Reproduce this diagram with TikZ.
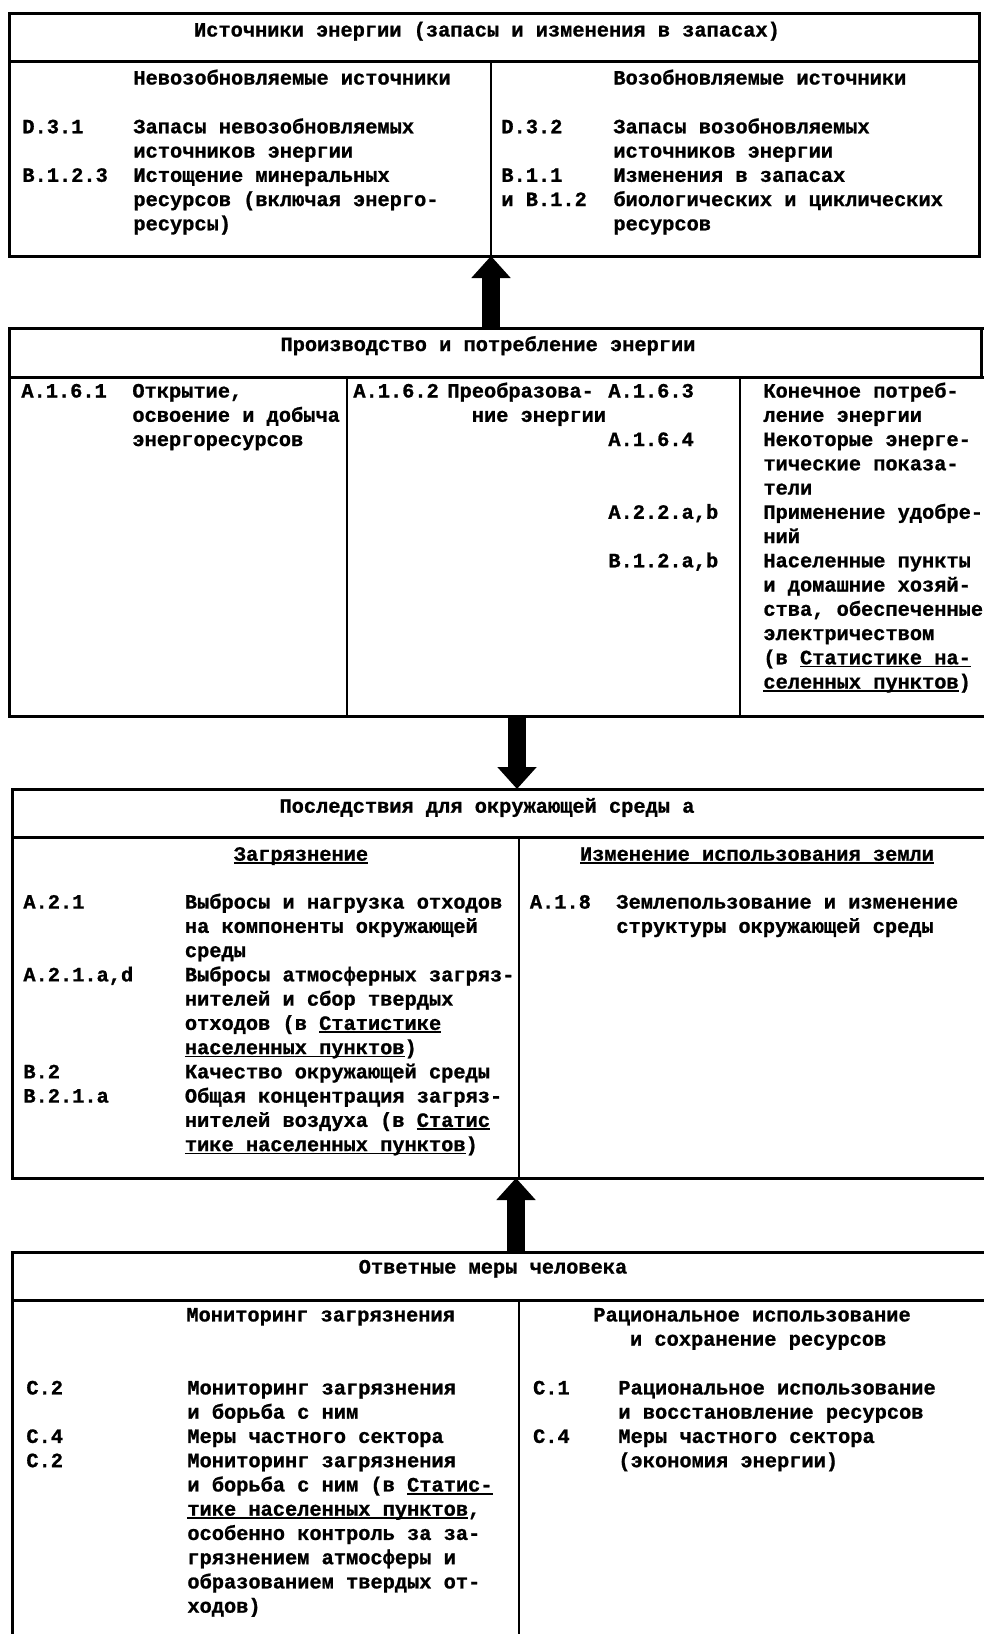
\documentclass[tikz,border=0pt]{standalone}
\usepackage{fontspec}
\setmainfont{Liberation Mono}[BoldFeatures={FakeBold=1}]
\usetikzlibrary{arrows.meta}
\newcommand{\undl}[1]{\setbox0=\hbox{#1}\rlap{\rule[-1.6pt]{\wd0}{0.8pt}}\box0}

\begin{document}
\begin{tikzpicture}[x=0.5pt,y=-0.5pt,
  frame/.style={line width=1.5pt},
  rule/.style={line width=1pt},
  txt/.style={anchor=base west,inner sep=0pt,align=left,
    font=\bfseries\fontsize{10.17pt}{12.125pt}\selectfont},
  heading/.style={txt,anchor=base},
  bigarrow/.style={line width=8.75pt,-{Triangle[width=19pt,length=11pt]}}]
\useasboundingbox (0,0) rectangle (984,1634);
\fill[white] (0,0) rectangle (984,1634);
% (multi-line texts sit on the baseline of their last line)

% sources of energy
\draw[frame] (9,13) rectangle (979,256);
\draw[frame] (9,61) -- (979,61);
\draw[rule] (491,61) -- (491,256);
\node[heading] (src head) at (487,36.5) {Источники энергии (запасы и изменения в запасах)};
\node[txt] (nonren head) at (133,84.5) {Невозобновляемые источники};
\node[txt] (ren head) at (613,84.5) {Возобновляемые источники};
\node[txt] (d31) at (22,133.3) {D.3.1};
\node[txt] (b123) at (22,181.8) {B.1.2.3};
\node[txt] (nonren) at (133,230.3) {Запасы невозобновляемых\\источников энергии\\Истощение минеральных\\ресурсов (включая энерго-\\ресурсы)};
\node[txt] (d32) at (501,133.3) {D.3.2};
\node[txt] (b11) at (501,206.05) {B.1.1\\и B.1.2};
\node[txt] (ren) at (613,230.3) {Запасы возобновляемых\\источников энергии\\Изменения в запасах\\биологических и циклических\\ресурсов};

% production and consumption
\draw[frame] (984,328.5) -- (9,328.5) -- (9,716.5) -- (984,716.5);
\draw[frame] (981,328.5) -- (981,377);
\draw[frame] (9,377) -- (984,377);
\draw[rule] (347,377) -- (347,716.5);
\draw[rule] (740,377) -- (740,716.5);
\node[heading] (prod head) at (488,351) {Производство и потребление энергии};
\node[txt] (a161) at (21,397.5) {A.1.6.1};
\node[txt] (mining) at (132,446) {Открытие,\\освоение и добыча\\энергоресурсов};
\node[txt] (a162) at (353,397.5) {A.1.6.2};
\node[txt] (convert) at (447,421.75) {Преобразова-\\\hspace*{1.2em}ние энергии};
\node[txt] (a163) at (608,397.5) {A.1.6.3};
\node[txt] (a164) at (608,446) {A.1.6.4};
\node[txt] (a22ab) at (608,518.75) {A.2.2.a,b};
\node[txt] (b12ab) at (608,567.25) {B.1.2.a,b};
\node[txt] (enduse) at (763,688.5) {Конечное потреб-\\ление энергии\\Некоторые энерге-\\тические показа-\\тели\\Применение удобре-\\ний\\Населенные пункты\\и домашние хозяй-\\ства, обеспеченные\\электричеством\\(в \undl{Статистике на-}\\\undl{селенных пунктов})};

% environmental effects
\draw[frame] (984,789) -- (12,789) -- (12,1178) -- (984,1178);
\draw[frame] (12,837) -- (984,837);
\draw[rule] (519,837) -- (519,1178);
\node[heading] (env head) at (487,812.7) {Последствия для окружающей среды a};
\node[heading] (poll head) at (301,860.7) {\undl{Загрязнение}};
\node[heading] (land head) at (757,860.7) {\undl{Изменение использования земли}};
\node[txt] (a21) at (23,908.6) {A.2.1};
\node[txt] (a21ad) at (23,981.35) {A.2.1.a,d};
\node[txt] (b2) at (23,1078.35) {B.2};
\node[txt] (b21a) at (23,1102.6) {B.2.1.a};
\node[txt] (pollution) at (184.5,1151.1) {Выбросы и нагрузка отходов\\на компоненты окружающей\\среды\\Выбросы атмосферных загряз-\\нителей и сбор твердых\\отходов (в \undl{Статистике}\\\undl{населенных пунктов})\\Качество окружающей среды\\Общая концентрация загряз-\\нителей воздуха (в \undl{Статис}\\\undl{тике населенных пунктов})};
\node[txt] (a18) at (529.5,908.6) {A.1.8};
\node[txt] (landuse) at (616,932.85) {Землепользование и изменение\\структуры окружающей среды};

% human response
\draw[frame] (12,1634) -- (12,1252) -- (984,1252);
\draw[frame] (12,1300) -- (984,1300);
\draw[rule] (519,1300) -- (519,1634);
\node[heading] (resp head) at (493,1273.5) {Ответные меры человека};
\node[txt] (mon head) at (186,1321.4) {Мониторинг загрязнения};
\node[txt] (res head) at (593,1345.65) {Рациональное использование\\\hspace*{1.8em}и сохранение ресурсов};
\node[txt] (c2a) at (26,1394.4) {C.2};
\node[txt] (c4a) at (26,1442.9) {C.4};
\node[txt] (c2b) at (26,1467.15) {C.2};
\node[txt] (monitor) at (187,1612.65) {Мониторинг загрязнения\\и борьба с ним\\Меры частного сектора\\Мониторинг загрязнения\\и борьба с ним (в \undl{Статис-}\\\undl{тике населенных пунктов},\\особенно контроль за за-\\грязнением атмосферы и\\образованием твердых от-\\ходов)};
\node[txt] (c1) at (532.7,1394.4) {C.1};
\node[txt] (c4b) at (532.7,1442.9) {C.4};
\node[txt] (manage) at (618,1467.15) {Рациональное использование\\и восстановление ресурсов\\Меры частного сектора\\(экономия энергии)};

% arrows between the blocks
\coordinate (src bot) at (491,256);
\coordinate (prod top) at (491,328.5);
\coordinate (prod bot) at (517,716.5);
\coordinate (env top) at (517,789);
\coordinate (env bot) at (516,1178);
\coordinate (resp top) at (516,1252);
\draw[bigarrow] (prod top) -- (src bot);
\draw[bigarrow] (prod bot) -- (env top);
\draw[bigarrow] (resp top) -- (env bot);
\end{tikzpicture}
\end{document}
